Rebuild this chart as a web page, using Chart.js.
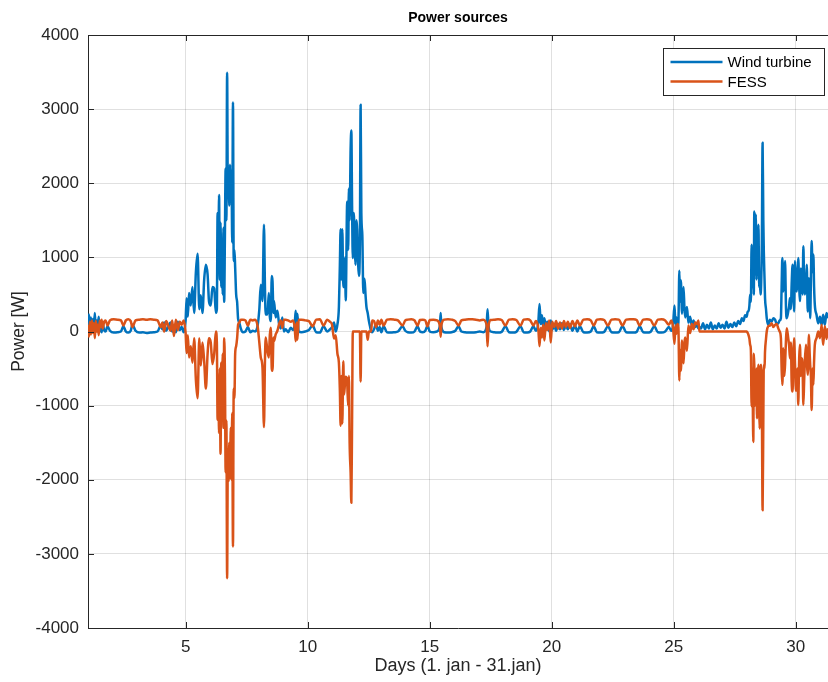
<!DOCTYPE html>
<html>
<head>
<meta charset="utf-8">
<title>Power sources</title>
<script src="https://cdn.jsdelivr.net/npm/chart.js@4.4.1/dist/chart.umd.min.js"></script>
<style>
    html, body { margin: 0; padding: 0; background: #fff; }
    #wrap { width: 828px; height: 682px; position: relative; }
</style>
</head>
<body>
<div id="wrap"><canvas id="powerChart"></canvas></div>
<script>
// Data (day of january, power in W)
const days = [
    // 1 - 1.7 noisy start
    1.00, 1.04, 1.08, 1.12, 1.16, 1.20, 1.24, 1.28, 1.32, 1.36, 1.40, 1.44, 1.48, 1.52, 1.56, 1.60, 1.66, 1.72,
    // calm until day 5
    1.80, 1.90, 2.05, 2.20, 2.35, 2.45, 2.55, 2.65, 2.75, 2.82, 2.95, 3.10, 3.25, 3.40, 3.55, 3.70, 3.85, 3.98,
    4.05, 4.12, 4.20, 4.30, 4.38, 4.45, 4.52, 4.60, 4.68, 4.76, 4.84, 4.92, 5.00,
    // storm day 5 - 7
    5.04, 5.09, 5.14, 5.21, 5.28, 5.35, 5.42, 5.49, 5.56, 5.62, 5.69, 5.76, 5.83, 5.90, 5.96, 6.03, 6.10, 6.17, 6.24,
    6.28, 6.31, 6.34, 6.37, 6.40, 6.43, 6.46, 6.49, 6.52, 6.55, 6.58, 6.61, 6.64, 6.67, 6.70, 6.73, 6.76, 6.79,
    6.82, 6.85, 6.88, 6.91, 6.94, 6.97, 7.00, 7.03, 7.07, 7.11, 7.15, 7.20, 7.26,
    7.35, 7.45, 7.55, 7.65, 7.75, 7.85, 7.95, 8.02,
    // day 8 - 9.6
    8.08, 8.15, 8.21, 8.25, 8.28, 8.35, 8.41, 8.45, 8.49, 8.53, 8.56, 8.60, 8.62, 8.69, 8.76, 8.83, 8.90, 8.96,
    9.03, 9.10, 9.20, 9.31, 9.40, 9.47, 9.51, 9.55, 9.58, 9.63,
    9.75, 9.90, 10.05, 10.20, 10.35, 10.50, 10.65, 10.80, 10.92, 11.00,
    // storm day 11 - 12.6
    11.08, 11.15, 11.22, 11.28, 11.32, 11.35, 11.38, 11.42, 11.46, 11.49, 11.53, 11.56, 11.62, 11.66, 11.69,
    11.72, 11.76, 11.79, 11.82, 11.85, 11.89, 11.93, 11.96, 12.00, 12.03, 12.07, 12.10, 12.14, 12.17, 12.20,
    12.24, 12.28, 12.33, 12.37, 12.41, 12.46, 12.51, 12.56, 12.60, 12.64,
    // long calm period
    12.72, 12.80, 12.88, 12.95, 13.02, 13.11, 13.25, 13.40, 13.55, 13.70, 13.89, 14.00, 14.10, 14.25, 14.38,
    14.50, 14.60, 14.72, 14.82, 14.91, 15.00, 15.15, 15.30, 15.42, 15.45, 15.48, 15.60, 15.75, 15.90, 16.05,
    16.18, 16.30, 16.45, 16.60, 16.75, 16.90, 17.05, 17.20, 17.33, 17.37, 17.41, 17.50, 17.65, 17.80, 17.95,
    18.10, 18.25, 18.40, 18.55, 18.72, 18.85, 19.00, 19.12, 19.25, 19.35, 19.45, 19.50, 19.55, 19.60, 19.65,
    19.70, 19.76, 19.82, 19.90, 19.96, 20.02, 20.10, 20.18, 20.26, 20.34, 20.42, 20.50, 20.58, 20.66, 20.75,
    20.85, 20.95, 21.05, 21.15, 21.30, 21.45, 21.60, 21.72, 21.85, 22.00, 22.15, 22.30, 22.45, 22.60, 22.75,
    22.90, 23.05, 23.20, 23.35, 23.48, 23.60, 23.75, 23.90, 24.05, 24.20, 24.35, 24.50, 24.65, 24.80, 24.90, 24.97,
    // day 25 gust
    25.03, 25.07, 25.11, 25.15, 25.19, 25.23, 25.26, 25.29, 25.34, 25.40, 25.44, 25.47, 25.54, 25.60, 25.67,
    25.74, 25.81, 25.88, 25.95, 26.01, 26.05,
    // FESS idle
    26.12, 26.20, 26.28, 26.36, 26.44, 26.52, 26.60, 26.68, 26.76, 26.84, 26.92, 27.00, 27.08, 27.16, 27.24,
    27.32, 27.40, 27.48, 27.56, 27.64, 27.72, 27.79, 27.86, 27.92, 27.99, 28.03,
    // storm day 28 - end
    28.06, 28.10, 28.13, 28.16, 28.19, 28.22, 28.26, 28.28, 28.30, 28.33, 28.36, 28.39, 28.41, 28.44, 28.47,
    28.50, 28.52, 28.55, 28.58, 28.61, 28.64, 28.67, 28.69, 28.72, 28.74, 28.78, 28.81, 28.87, 28.94, 29.01,
    29.08, 29.15, 29.22, 29.28, 29.34, 29.39, 29.42, 29.45, 29.49, 29.53, 29.56, 29.60, 29.63, 29.69, 29.73,
    29.76, 29.80, 29.83, 29.87, 29.90, 29.93, 29.97, 30.01, 30.04, 30.07, 30.10, 30.14, 30.17, 30.21, 30.24,
    30.28, 30.31, 30.34, 30.37, 30.42, 30.45, 30.49, 30.54, 30.57, 30.59, 30.62, 30.65, 30.69, 30.72, 30.75,
    30.78, 30.85, 30.92, 30.99, 31.06, 31.12, 31.19, 31.26, 31.32
];

const windPower = [
    60, 230, 20, 190, 0, 170, 40, 250, 10, 150, 60, 200, 0, 90, -10, 110, 20, 0,
    70, 10, -15, -10, 0, 70, 0, -15, 10, 90, 10, -15, -10, -20, -15, -10, 0, 80,
    30, 120, 10, 70, 120, 0, 80, -10, 130, 20, 60, -10, 150,
    450, 200, 520, 350, 600, 250, 800, 1050, 300, 490, 250, 700, 900, 770, 400, 350, 600, 580, 250,
    300, 1600, 900, 1840, 700, 1470, 600, 1230, 500, 1400, 400, 1300, 2200, 1500, 3490, 1800, 2160, 1700,
    2250, 1900, 2100, 1200, 3090, 950, 1100, 860, 500, 400, 170, 120, 40,
    -10, 0, 60, -10, 10, 0, 80, 300,
    630, 410, 1440, 600, 230, 230, 520, 200, 140, 750, 680, 250, 410, 190, 280, 100, 40, 190,
    0, 30, -10, 50, 20, 100, 280, 50, 240, 0,
    -10, 0, 20, 80, -10, -15, 70, 0, 30, 60,
    120, 0, 95, 330, 900, 1380, 700, 1380, 600, 610, 1000, 420, 1750, 1100, 1930,
    1500, 2450, 2710, 1700, 990, 1600, 1100, 900, 1500, 1370, 900, 750, 1200, 3060, 1600,
    1300, 520, 710, 500, 330, 250, 140, 60, 0, -10,
    30, 100, 10, 60, -10, 70, -10, -15, -10, 0, 70, 10, -10, -15, 0,
    70, 0, -10, 10, 80, 0, -10, 0, 80, 250, 60, -10, -15, -10, 10,
    70, 0, -10, -15, -15, -10, 0, -10, 60, 300, 80, 0, -10, -15, -5,
    70, -10, -15, -5, 70, -10, -15, 0, 70, 10, 120, 370, 100, 220, 60,
    180, 40, 130, 0, 150, 20, 90, 10, 100, 30, 110, 20, 90, 30, 100,
    10, 80, 0, 70, -10, -15, 0, 70, -10, -15, -5, 70, -10, -15, -10,
    70, -10, -15, -15, -5, 70, -10, -15, -5, 70, -10, -15, 0, 60, 10, 80,
    350, 100, 190, 60, 120, 820, 400, 690, 240, 600, 300, 190, 330, 120, 200,
    80, 150, 60, 90, 40, 60,
    40, 110, 30, 90, 40, 120, 30, 80, 40, 110, 50, 90, 40, 130, 50,
    100, 60, 120, 70, 140, 100, 180, 140, 220, 200, 270,
    270, 350, 500, 400, 1170, 600, 810, 500, 1620, 900, 1580, 700, 990, 800, 1440,
    600, 810, 500, 630, 1200, 2545, 1500, 1080, 700, 450, 300, 180, 90, 160, 135,
    180, 160, 100, 110, 150, 180, 600, 990, 540, 700, 950, 300, 180, 270, 350,
    450, 300, 630, 900, 500, 270, 950, 600, 540, 700, 990, 600, 410, 850, 720,
    500, 1150, 700, 500, 630, 900, 270, 720, 400, 180, 700, 1220, 800, 1040, 600,
    360, 225, 110, 200, 90, 225, 90, 250, 180
];

const fessPower = [
    90, -70, 130, -40, 150, -20, 110, -90, 140, 0, 90, -50, 150, 60, 160, 40, 130, 150,
    80, 150, 165, 160, 150, 80, 150, 165, 140, 60, 150, 160, 165, 160, 165, 160, 150, 60,
    120, 0, 140, 70, 10, 150, -60, 160, 20, 130, 90, 150, -20,
    -290, -50, -350, -200, -420, -90, -650, -900, -90, -460, -150, -400, -770, -300, -90, -150, -440, -300, 0,
    -150, -1190, -700, -1370, -500, -1650, -420, -1100, -300, -1300, -90, -560, -1900, -1200, -3330, -1600, -2020, -1500,
    -1980, -1300, -2000, -1100, -2900, -770, -900, -300, -200, -90, 90, 120, 160,
    160, 150, 80, 160, 150, 160, 70, -150,
    -350, -490, -1290, -400, -80, -260, -350, -50, 50, -500, -530, -80, -130, -40, 10, 100, 150, 50,
    160, 160, 150, 130, 150, 50, -130, 120, -110, 160,
    160, 150, 140, 70, 160, 165, 80, 160, 130, 90,
    -95, -50, -300, -420, -800, -1270, -600, -1240, -400, -850, -700, -610, -700, -1000, -600,
    -1500, -1900, -2310, -1200, 0, 0, 0, 0, 0, 0, 0, 0, 0, -675, 0,
    0, 0, 0, 0, 0, -110, 0, 0, 0, 150,
    140, 60, 150, 90, 160, 80, 160, 165, 160, 150, 80, 150, 160, 165, 150,
    80, 155, 160, 150, 70, 155, 160, 150, 70, -70, 90, 160, 165, 160, 140,
    80, 150, 160, 165, 165, 160, 150, 160, 90, -200, 70, 155, 160, 165, 155,
    80, 160, 165, 155, 80, 160, 165, 150, 80, 140, 40, -200, 50, -80, 90,
    -120, 110, 20, 150, -150, 130, 60, 140, 40, 120, 40, 140, 60, 130, 50,
    140, 70, 150, 80, 160, 165, 150, 80, 160, 165, 155, 80, 160, 165, 160,
    80, 160, 165, 165, 155, 80, 160, 165, 155, 80, 160, 165, 150, 90, 150, 60,
    -165, 80, -30, 100, 60, -660, -250, -530, -120, -430, -150, -80, -260, 80, -20,
    100, 30, 120, 100, 150, 0,
    0, 0, 0, 0, 0, 0, 0, 0, 0, 0, 0, 0, 0, 0, 0,
    0, 0, 0, 0, 0, 0, 0, 0, 0, 0, -20,
    -45, -100, -180, -250, -1010, -500, -1490, -300, -450, -1000, -810, -500, -1170, -800, -450,
    -1000, -1310, -600, -450, -1000, -2410, -1200, -450, -500, -270, -100, 0, 70, 80, 110,
    60, 90, 100, 45, 0, -90, -500, -720, -225, -600, -450, -100, 45, -90, -200,
    -360, -150, -675, -810, -300, -90, -450, -800, -630, -500, -990, -350, -180, -600, -360,
    -500, -990, -700, -405, -180, -400, -585, -45, -300, -450, -600, -1060, -500, -720, -400,
    -180, -90, 0, -90, 90, -180, 70, -100, 45
];

const seriesNames = ['Wind turbine', 'FESS'];
const seriesColors = ['#0072BD', '#D95319'];
const dayTicks = [5, 10, 15, 20, 25, 30];
const powerTicks = [-4000, -3000, -2000, -1000, 0, 1000, 2000, 3000, 4000];

const axisColor = '#262626';
const gridColor = 'rgba(0, 0, 0, 0.12)';
const fontFamily = 'Helvetica, "Liberation Sans", Arial, sans-serif';

function toPoints(values) {
    return days.map((d, i) => ({ x: d, y: values[i] }));
}

// MATLAB style frame: top border, inner ticks, title and boxed legend
const matlabFrame = {
    id: 'matlabFrame',
    afterDraw(chart) {
        const ctx = chart.ctx;
        const area = chart.chartArea;
        const xs = chart.scales.x;
        const ys = chart.scales.y;
        const tickLen = 6;

        ctx.save();
        ctx.strokeStyle = axisColor;
        ctx.lineWidth = 1;
        ctx.beginPath();
        ctx.moveTo(area.left, area.top + 0.5);
        ctx.lineTo(area.right, area.top + 0.5);
        xs.ticks.forEach(t => {
            const px = Math.round(xs.getPixelForValue(t.value)) + 0.5;
            ctx.moveTo(px, area.bottom);
            ctx.lineTo(px, area.bottom - tickLen);
            ctx.moveTo(px, area.top);
            ctx.lineTo(px, area.top + tickLen);
        });
        ys.ticks.forEach(t => {
            const py = Math.round(ys.getPixelForValue(t.value)) + 0.5;
            ctx.moveTo(area.left, py);
            ctx.lineTo(area.left + tickLen, py);
        });
        ctx.stroke();

        // title
        ctx.fillStyle = '#000';
        ctx.font = 'bold 14px ' + fontFamily;
        ctx.textAlign = 'center';
        ctx.textBaseline = 'middle';
        ctx.fillText('Power sources', (area.left + area.right) / 2, 18);

        // legend
        const boxW = 161, boxH = 47;
        const bx = area.right - 4 - boxW + 0.5;
        const by = area.top + 13 + 0.5;
        ctx.fillStyle = '#fff';
        ctx.fillRect(bx, by, boxW, boxH);
        ctx.strokeStyle = axisColor;
        ctx.strokeRect(bx, by, boxW, boxH);
        ctx.font = '15px ' + fontFamily;
        ctx.textAlign = 'left';
        chart.data.datasets.forEach((ds, i) => {
            const ly = by + 13.5 + i * 19.5;
            ctx.strokeStyle = ds.borderColor;
            ctx.lineWidth = 2.5;
            ctx.beginPath();
            ctx.moveTo(bx + 7, ly);
            ctx.lineTo(bx + 59, ly);
            ctx.stroke();
            ctx.fillStyle = '#000';
            ctx.fillText(ds.label, bx + 64, ly + 1);
        });
        ctx.restore();
    }
};

const ctx = document.getElementById('powerChart');
new Chart(ctx, {
    type: 'line',
    data: {
        datasets: [
            {
                label: seriesNames[0],
                data: toPoints(windPower),
                borderColor: seriesColors[0],
                order: 1
            },
            {
                label: seriesNames[1],
                data: toPoints(fessPower),
                borderColor: seriesColors[1],
                order: 0
            }
        ]
    },
    options: {
        responsive: true,
        maintainAspectRatio: false,
        animation: false,
        events: [],
        layout: { padding: { top: 35, right: 0, left: 0, bottom: 0 } },
        elements: {
            point: { radius: 0 },
            line: { borderWidth: 2.5, cubicInterpolationMode: 'monotone', borderJoinStyle: 'round' }
        },
        plugins: {
            legend: { display: false },
            title: { display: false },
            tooltip: { enabled: false }
        },
        scales: {
            x: {
                type: 'linear',
                min: 1,
                max: 31.32,
                afterBuildTicks: s => { s.ticks = dayTicks.map(v => ({ value: v })); },
                afterFit: s => { s.height = 54; },
                grid: { color: gridColor, drawTicks: false },
                border: { color: axisColor, width: 1 },
                ticks: {
                    color: axisColor,
                    padding: 9,
                    maxRotation: 0,
                    font: { family: fontFamily, size: 17 },
                    callback: v => String(v)
                },
                title: {
                    display: true,
                    text: 'Days (1. jan - 31.jan)',
                    color: axisColor,
                    padding: { top: 0, bottom: 5 },
                    font: { family: fontFamily, size: 18 }
                }
            },
            y: {
                min: -4000,
                max: 4000,
                afterBuildTicks: s => { s.ticks = powerTicks.map(v => ({ value: v })); },
                afterFit: s => { s.width = 88; },
                grid: { color: gridColor, drawTicks: false },
                border: { color: axisColor, width: 1 },
                ticks: {
                    color: axisColor,
                    padding: 9,
                    font: { family: fontFamily, size: 17 },
                    callback: v => String(v)
                },
                title: {
                    display: true,
                    text: 'Power [W]',
                    color: axisColor,
                    padding: { top: 9, bottom: 0 },
                    font: { family: fontFamily, size: 17.5 }
                }
            }
        }
    },
    plugins: [matlabFrame]
});
</script>
</body>
</html>
